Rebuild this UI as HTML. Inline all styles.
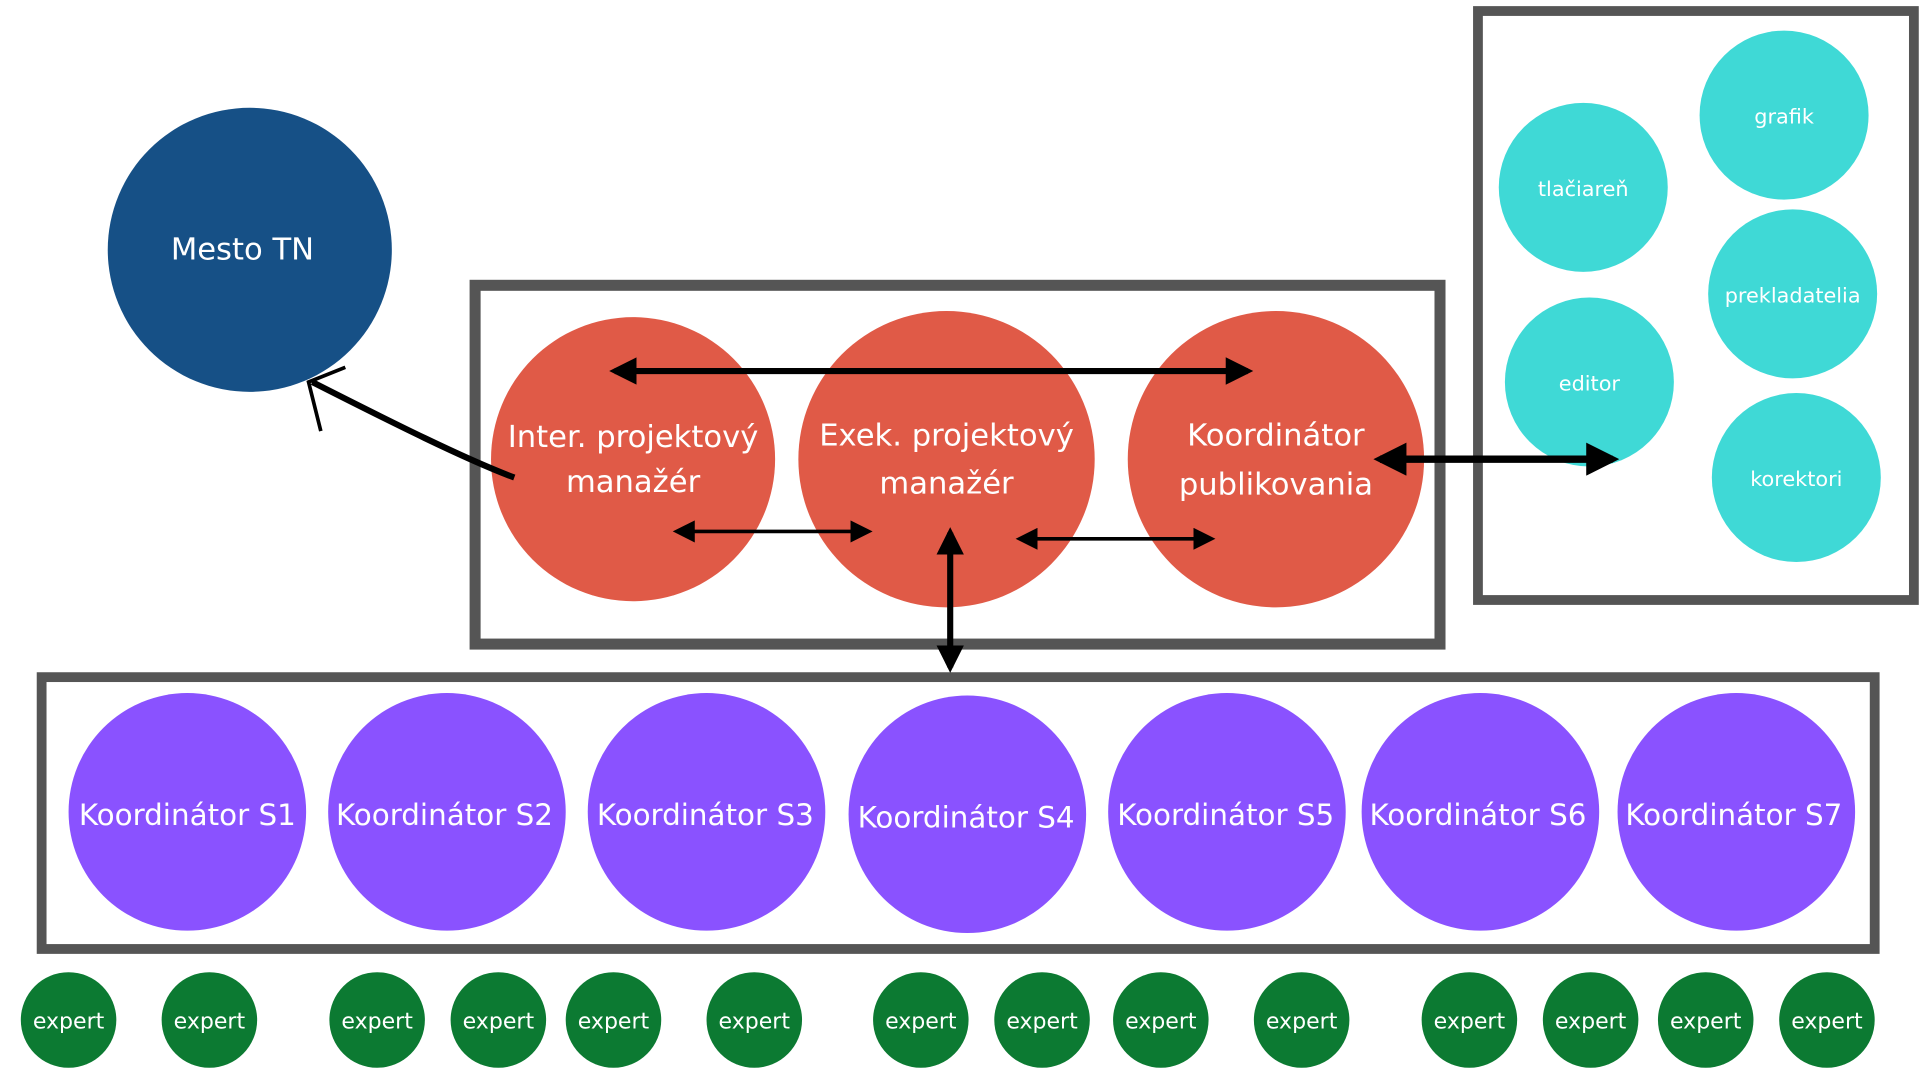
<!DOCTYPE html>
<html><head><meta charset="utf-8"><style>
html,body{margin:0;padding:0;background:#fff;width:1920px;height:1080px;overflow:hidden}
svg{display:block}
text{font-family:"DejaVu Sans","Liberation Sans",sans-serif;fill:#fff;text-anchor:middle;dominant-baseline:middle}
</style></head><body>
<svg width="1920" height="1080" viewBox="0 0 1568 882" xmlns="http://www.w3.org/2000/svg">
<defs>
<marker id="ah" viewBox="0 0 10 10" refX="8" refY="5" markerWidth="4.5" markerHeight="4.5" orient="auto-start-reverse"><path d="M0,0 L10,5 L0,10 z" fill="#000"/></marker>
<marker id="ahs" viewBox="0 0 10 10" refX="8" refY="5" markerWidth="6" markerHeight="6" orient="auto-start-reverse"><path d="M0,0 L10,5 L0,10 z" fill="#000"/></marker>
</defs>
<circle cx="204" cy="204" r="116" fill="#165086"/>
<text x="198" y="205" font-size="25">Mesto TN</text>

<rect x="388" y="233" width="788" height="293" fill="none" stroke="#555" stroke-width="9"/>
<rect x="1207" y="9" width="356" height="481" fill="none" stroke="#555" stroke-width="8"/>
<rect x="34" y="553" width="1497" height="222" fill="none" stroke="#555" stroke-width="8"/>

<g fill="#e05a47">
<circle cx="517" cy="375" r="116"/><circle cx="773" cy="375" r="121"/><circle cx="1042" cy="375" r="121"/>
</g>
<g font-size="25">
<text x="517" y="358">Inter. projektový</text><text x="517" y="395">manažér</text>
<text x="773" y="357">Exek. projektový</text><text x="773" y="396">manažér</text>
<text x="1042" y="357">Koordinátor</text><text x="1042" y="397">publikovania</text>
</g>

<g fill="#3fd9d6">
<circle cx="1457" cy="94" r="69"/><circle cx="1293" cy="153" r="69"/><circle cx="1464" cy="240" r="69"/><circle cx="1298" cy="312" r="69"/><circle cx="1467" cy="390" r="69"/>
</g>
<g font-size="17">
<text x="1457" y="96">grafik</text><text x="1293" y="155">tlačiareň</text><text x="1464" y="242">prekladatelia</text><text x="1298" y="314">editor</text><text x="1467" y="392">korektori</text>
</g>

<g fill="#8a52ff">
<circle cx="153" cy="663" r="97"/><circle cx="365" cy="663" r="97"/><circle cx="577" cy="663" r="97"/><circle cx="790" cy="665" r="97"/><circle cx="1002" cy="663" r="97"/><circle cx="1209" cy="663" r="97"/><circle cx="1418" cy="663" r="97"/>
</g>
<g font-size="24">
<text x="153" y="667">Koordinátor S1</text><text x="363" y="667">Koordinátor S2</text><text x="576" y="667">Koordinátor S3</text><text x="789" y="669">Koordinátor S4</text><text x="1001" y="667">Koordinátor S5</text><text x="1207" y="667">Koordinátor S6</text><text x="1416" y="667">Koordinátor S7</text>
</g>

<g fill="#0c7a32">
<circle cx="56" cy="833" r="39"/><circle cx="171" cy="833" r="39"/><circle cx="308" cy="833" r="39"/><circle cx="407" cy="833" r="39"/><circle cx="501" cy="833" r="39"/><circle cx="616" cy="833" r="39"/><circle cx="752" cy="833" r="39"/><circle cx="851" cy="833" r="39"/><circle cx="948" cy="833" r="39"/><circle cx="1063" cy="833" r="39"/><circle cx="1200" cy="833" r="39"/><circle cx="1299" cy="833" r="39"/><circle cx="1393" cy="833" r="39"/><circle cx="1492" cy="833" r="39"/>
</g>
<g font-size="18">
<text x="56" y="835">expert</text><text x="171" y="835">expert</text><text x="308" y="835">expert</text><text x="407" y="835">expert</text><text x="501" y="835">expert</text><text x="616" y="835">expert</text><text x="752" y="835">expert</text><text x="851" y="835">expert</text><text x="948" y="835">expert</text><text x="1063" y="835">expert</text><text x="1200" y="835">expert</text><text x="1299" y="835">expert</text><text x="1393" y="835">expert</text><text x="1492" y="835">expert</text>
</g>

<g stroke="#000" fill="none">
<line x1="502" y1="303" x2="1019" y2="303" stroke-width="5" marker-start="url(#ah)" marker-end="url(#ah)"/>
<line x1="553" y1="434" x2="709" y2="434" stroke-width="3" marker-start="url(#ahs)" marker-end="url(#ahs)"/>
<line x1="833" y1="440" x2="989" y2="440" stroke-width="3" marker-start="url(#ahs)" marker-end="url(#ahs)"/>
<line x1="776" y1="435" x2="776" y2="545" stroke-width="5" marker-start="url(#ah)" marker-end="url(#ah)"/>
<line x1="1127" y1="375" x2="1317" y2="375" stroke-width="6" marker-start="url(#ah)" marker-end="url(#ah)"/>
<path d="M420,390 C380,375 320,345 255,312" stroke-width="5"/>
<path d="M282,300 L252,312 L262,352" stroke-width="3"/>
</g>
</svg>
</body></html>
